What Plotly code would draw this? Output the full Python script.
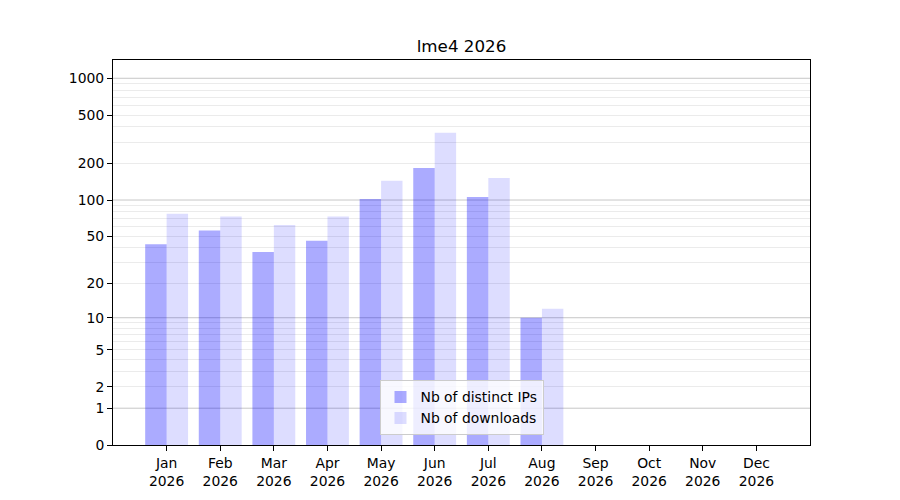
import plotly.graph_objects as go

# Monthly stats for the package
year = 2026
months = ["Jan", "Feb", "Mar", "Apr", "May", "Jun",
          "Jul", "Aug", "Sep", "Oct", "Nov", "Dec"]
distinct_ips = [43, 56, 37, 46, 102, 184, 106, 10, None, None, None, None]
downloads = [77, 73, 62, 73, 144, 357, 152, 12, None, None, None, None]

# y axis ticks (axis is log10(1 + value))
tick_values = [0, 1, 2, 5, 10, 20, 50, 100, 200, 500, 1000]
major_grid = [1, 10, 100, 1000]
minor_grid = [2, 3, 4, 5, 6, 7, 8, 9,
              20, 30, 40, 50, 60, 70, 80, 90,
              200, 300, 400, 500, 600, 700, 800, 900]

labels = [f"{m}<br>{year}" for m in months]
font = "DejaVu Sans"

fig = go.Figure()
fig.add_trace(go.Bar(x=labels, y=distinct_ips, base=1, name="Nb of distinct IPs",
                     marker=dict(color="rgba(0,0,255,0.33)", line=dict(width=0))))
fig.add_trace(go.Bar(x=labels, y=downloads, base=1, name="Nb of downloads",
                     marker=dict(color="rgba(0,0,255,0.135)", line=dict(width=0))))

# darker grid lines at the decades
for v in major_grid:
    fig.add_shape(type="line", xref="paper", x0=0, x1=1, yref="y", y0=v + 1, y1=v + 1,
                  line=dict(color="rgba(128,128,128,0.45)", width=1), layer="below")

fig.update_layout(
    width=900, height=500,
    margin=dict(l=113, r=90, t=60, b=55),
    paper_bgcolor="white", plot_bgcolor="white",
    font=dict(family=font, size=13.9, color="black"),
    title=dict(text="lme4 2026", x=0.5, xref="paper", y=1 - 46 / 500, yanchor="middle",
               font=dict(family=font, size=16.7, color="black")),
    barmode="group", bargap=0.2, bargroupgap=0,
    showlegend=True,
    legend=dict(x=0.5, xanchor="center", y=0.025, yanchor="bottom",
                bgcolor="rgba(255,255,255,0.8)", bordercolor="#cccccc", borderwidth=1,
                font=dict(family=font, size=13.9, color="black"),
                tracegroupgap=0),
)
fig.update_xaxes(type="category", range=[-1, 12], showgrid=False,
                 showline=True, mirror=True, linecolor="black", linewidth=1,
                 ticks="outside", ticklen=5, tickwidth=1, tickcolor="black")
fig.update_yaxes(type="log", range=[0, 3.15], showgrid=False, zeroline=False,
                 tickmode="array", tickvals=[t + 1 for t in tick_values],
                 ticktext=[str(t) for t in tick_values],
                 showline=True, mirror=True, linecolor="black", linewidth=1,
                 ticks="outside", ticklen=5, tickwidth=1, tickcolor="black",
                 minor=dict(tickmode="array", tickvals=[t + 1 for t in minor_grid],
                            showgrid=True, gridcolor="#ebebeb", gridwidth=1, ticks=""))

fig.write_html("out.html", config={"displayModeBar": False},
               post_script="document.body.style.margin = '0px';")
